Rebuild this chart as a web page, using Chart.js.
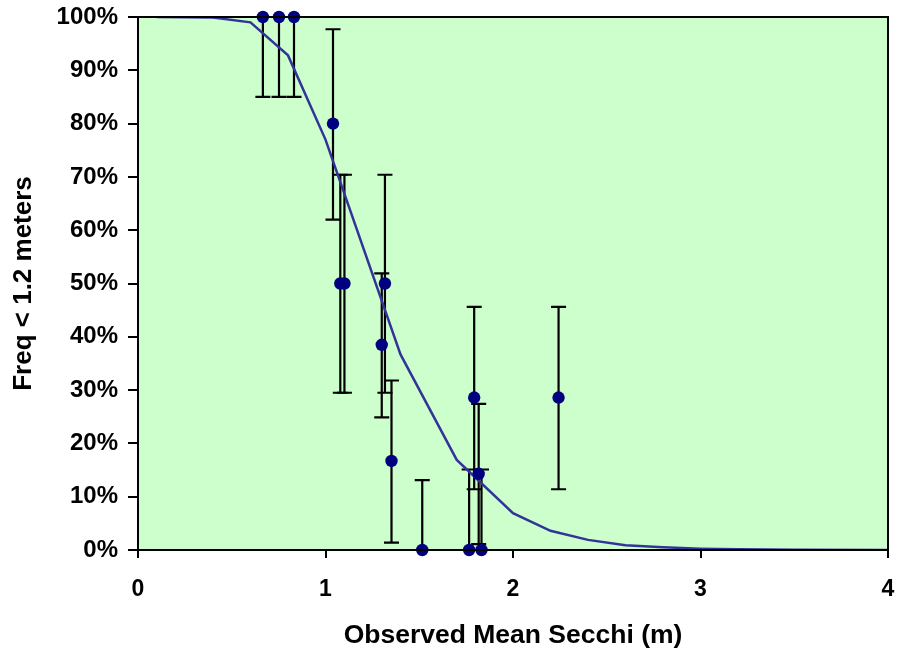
<!DOCTYPE html>
<html>
<head>
<meta charset="utf-8">
<script src="https://cdn.jsdelivr.net/npm/chart.js@4.4.1/dist/chart.umd.min.js"></script>
<style>
  html, body { margin: 0; padding: 0; background: #ffffff; }
  #wrap { width: 901px; height: 658px; }
</style>
</head>
<body>
<div id="wrap"><canvas id="c" width="901" height="658"></canvas></div>
<script>
// Observed data (Secchi mean, frequency < 1.2 m, error bar limits)
const secchi = [0.666, 0.752, 0.832, 1.04, 1.079, 1.101, 1.30, 1.317, 1.352, 1.516, 1.766, 1.793, 1.817, 1.832, 2.243];
const freq   = [100, 100, 100, 80, 50, 50, 38.5, 50, 16.7, 0, 0, 28.6, 14.3, 0, 28.6];
const lowerCI = [85, 85, 85, 62, 29.5, 29.5, 24.9, 29.5, 1.4, 0, 0, 11.4, 1.1, 0, 11.4];
const upperCI = [115, 115, 115, 97.7, 70.4, 70.4, 51.9, 70.4, 31.8, 13.1, 15.1, 45.6, 27.4, 15.1, 45.6];

// Fitted curve
const curveX = [0.1, 0.4, 0.6, 0.8, 1.0, 1.4, 1.7, 2.0, 2.2, 2.4, 2.6, 2.8, 3.0, 3.2, 3.5, 4.0];
const curveY = [100, 99.9, 99.0, 92.8, 77.0, 36.7, 16.9, 6.9, 3.6, 1.9, 0.9, 0.5, 0.25, 0.12, 0.05, 0.01];

const xTicks = [0, 1, 2, 3, 4];
const yTicks = [0, 10, 20, 30, 40, 50, 60, 70, 80, 90, 100];

const FONT = "'Liberation Sans', Arial, sans-serif";

const plotBg = {
  id: 'plotBg',
  beforeDatasetsDraw(chart) {
    const {ctx, chartArea: a} = chart;
    ctx.save();
    ctx.fillStyle = '#CCFFCC';
    ctx.fillRect(a.left, a.top, a.right - a.left, a.bottom - a.top);
    ctx.restore();
  },
  afterDatasetsDraw(chart) {
    const {ctx, chartArea: a} = chart;
    ctx.save();
    ctx.strokeStyle = '#000';
    ctx.lineWidth = 2;
    ctx.strokeRect(a.left, a.top, a.right - a.left, a.bottom - a.top);
    ctx.restore();
  }
};

const errorBars = {
  id: 'errorBars',
  beforeDatasetsDraw(chart) {
    const {ctx, chartArea: a, scales: {x, y}} = chart;
    ctx.save();
    ctx.beginPath();
    ctx.rect(a.left, a.top, a.right - a.left, a.bottom - a.top);
    ctx.clip();
    ctx.strokeStyle = '#000';
    ctx.lineWidth = 2.2;
    for (let i = 0; i < secchi.length; i++) {
      const px = x.getPixelForValue(secchi[i]);
      const yl = y.getPixelForValue(lowerCI[i]);
      const yu = y.getPixelForValue(upperCI[i]);
      ctx.beginPath();
      ctx.moveTo(px, yl); ctx.lineTo(px, yu);
      ctx.moveTo(px - 7.5, yl); ctx.lineTo(px + 7.5, yl);
      ctx.moveTo(px - 7.5, yu); ctx.lineTo(px + 7.5, yu);
      ctx.stroke();
    }
    ctx.restore();
  }
};

function zeroPad(s) {
  s.paddingLeft = 0; s.paddingRight = 0; s.paddingTop = 0; s.paddingBottom = 0;
}

const curveData = curveX.map((v, i) => ({x: v, y: curveY[i]}));
const obsData = secchi.map((v, i) => ({x: v, y: freq[i]}));

new Chart(document.getElementById('c'), {
  type: 'scatter',
  data: {
    datasets: [
      {
        label: 'Observed',
        data: obsData,
        showLine: false,
        pointRadius: 6.2,
        pointHoverRadius: 6.2,
        pointBackgroundColor: '#000080',
        pointBorderColor: '#000080',
        pointBorderWidth: 0,
        clip: false,
        order: 1
      },
      {
        label: 'Model',
        data: curveData,
        showLine: true,
        borderColor: '#333399',
        borderWidth: 2.5,
        pointRadius: 0,
        fill: false,
        tension: 0,
        order: 2
      }
    ]
  },
  options: {
    responsive: false,
    animation: false,
    devicePixelRatio: 1,
    layout: { padding: { left: 0, right: 13, top: 17, bottom: 0 } },
    plugins: { legend: { display: false }, tooltip: { enabled: false } },
    scales: {
      x: {
        type: 'linear',
        min: 0, max: 4,
        afterBuildTicks(s) { s.ticks = xTicks.map(v => ({value: v})); },
        afterFit(s) { s.height = 108; zeroPad(s); },
        grid: { display: true, drawOnChartArea: false, drawTicks: true, tickLength: 8, color: '#000', lineWidth: 2 },
        border: { display: true, color: '#000', width: 2 },
        ticks: {
          color: '#000',
          font: { family: FONT, size: 23, weight: 'bold' },
          padding: 18,
          maxRotation: 0,
          callback: v => String(v)
        },
        title: {
          display: true,
          text: 'Observed Mean Secchi (m)',
          color: '#000',
          font: { family: FONT, size: 26.5, weight: 'bold' },
          padding: { top: 10, bottom: 6 }
        }
      },
      y: {
        type: 'linear',
        min: 0, max: 100,
        afterBuildTicks(s) { s.ticks = yTicks.map(v => ({value: v})); },
        afterFit(s) { s.width = 138; zeroPad(s); },
        grid: { display: true, drawOnChartArea: false, drawTicks: true, tickLength: 10, color: '#000', lineWidth: 2 },
        border: { display: true, color: '#000', width: 2 },
        ticks: {
          color: '#000',
          font: { family: FONT, size: 24, weight: 'bold' },
          padding: 10,
          callback: v => v + '%'
        },
        title: {
          display: true,
          text: 'Freq < 1.2 meters',
          color: '#000',
          font: { family: FONT, size: 26, weight: 'bold' },
          padding: { top: 8, bottom: 0 }
        }
      }
    }
  },
  plugins: [plotBg, errorBars]
});
</script>
</body>
</html>
